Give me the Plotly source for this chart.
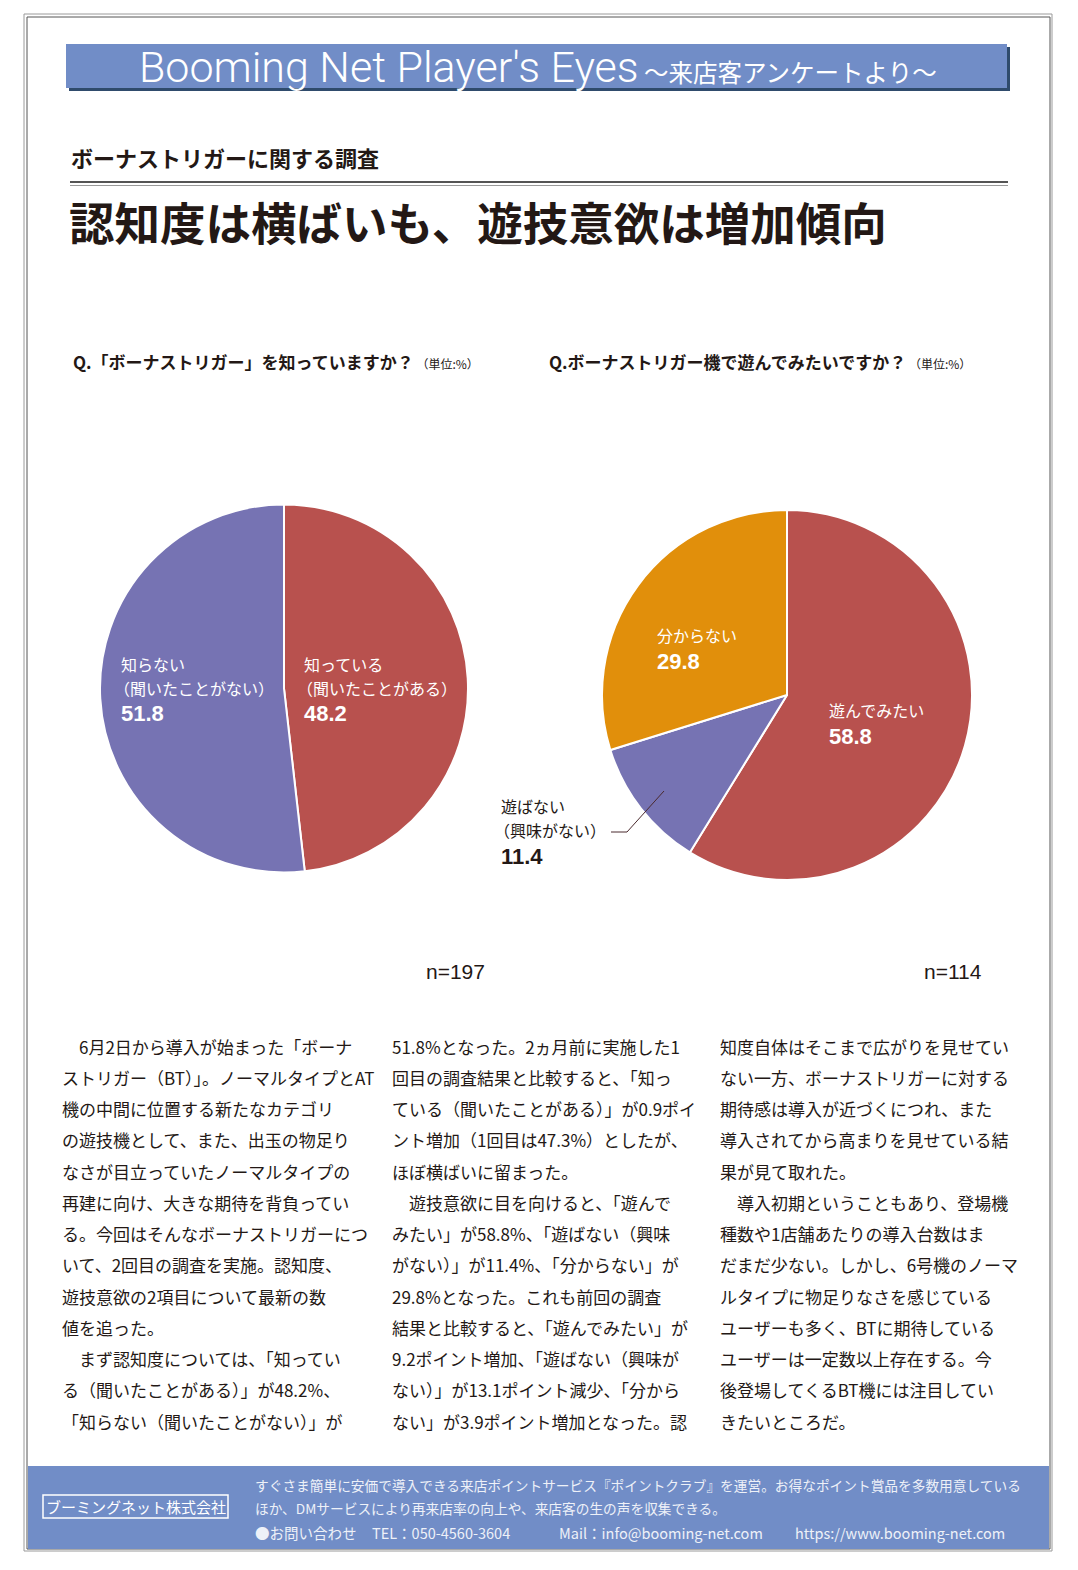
import plotly.graph_objects as go

W, H = 1078, 1570
OX, OY = -8, -8   # compensate the page's default body margin

# ---------------- data ----------------
q1_labels = ["知っている", "知らない"]
q1_sub = ["（聞いたことがある）", "（聞いたことがない）"]
q1_values = [48.2, 51.8]
q1_n = 197

q2_labels = ["遊んでみたい", "遊ばない", "分からない"]
q2_sub = ["", "（興味がない）", ""]
q2_values = [58.8, 11.4, 29.8]
q2_n = 114

RED, PURPLE, ORANGE = "#b8514e", "#7673b3", "#e18f0b"
BLUE = "#718dc7"
INK = "#231815"

col1 = [
    "\u30006月2日から導入が始まった「ボーナ",
    "ストリガー（BT）」。ノーマルタイプとAT",
    "機の中間に位置する新たなカテゴリ",
    "の遊技機として、また、出玉の物足り",
    "なさが目立っていたノーマルタイプの",
    "再建に向け、大きな期待を背負ってい",
    "る。今回はそんなボーナストリガーにつ",
    "いて、2回目の調査を実施。認知度、",
    "遊技意欲の2項目について最新の数",
    "値を追った。",
    "\u3000まず認知度については、「知ってい",
    "る（聞いたことがある）」が48.2%、",
    "「知らない（聞いたことがない）」が",
]
col2 = [
    "51.8%となった。2ヵ月前に実施した1",
    "回目の調査結果と比較すると、「知っ",
    "ている（聞いたことがある）」が0.9ポイ",
    "ント増加（1回目は47.3%）としたが、",
    "ほぼ横ばいに留まった。",
    "\u3000遊技意欲に目を向けると、「遊んで",
    "みたい」が58.8%、「遊ばない（興味",
    "がない）」が11.4%、「分からない」が",
    "29.8%となった。これも前回の調査",
    "結果と比較すると、「遊んでみたい」が",
    "9.2ポイント増加、「遊ばない（興味が",
    "ない）」が13.1ポイント減少、「分から",
    "ない」が3.9ポイント増加となった。認",
]
col3 = [
    "知度自体はそこまで広がりを見せてい",
    "ない一方、ボーナストリガーに対する",
    "期待感は導入が近づくにつれ、また",
    "導入されてから高まりを見せている結",
    "果が見て取れた。",
    "\u3000導入初期ということもあり、登場機",
    "種数や1店舗あたりの導入台数はま",
    "だまだ少ない。しかし、6号機のノーマ",
    "ルタイプに物足りなさを感じている",
    "ユーザーも多く、BTに期待している",
    "ユーザーは一定数以上存在する。今",
    "後登場してくるBT機には注目してい",
    "きたいところだ。",
]

footer_lines = [
    "すぐさま簡単に安価で導入できる来店ポイントサービス『ポイントクラブ』を運営。お得なポイント賞品を多数用意している",
    "ほか、DMサービスにより再来店率の向上や、来店客の生の声を収集できる。",
]
contact = ["●お問い合わせ", "TEL：050-4560-3604", "Mail：info@booming-net.com", "https://www.booming-net.com"]

JP = "Noto Sans CJK JP"


def px(x):
    return (x + OX) / W


def py(y):
    return 1 - (y + OY) / H


fig = go.Figure()

# ---------------- pies ----------------
fig.add_trace(go.Pie(
    labels=q1_labels, values=q1_values, sort=False, direction="clockwise", rotation=0,
    marker=dict(colors=[RED, PURPLE], line=dict(color="white", width=2)),
    textinfo="none", hoverinfo="label+value", showlegend=False,
    domain=dict(x=[px(100), px(468)], y=[py(873), py(504)]),
))
fig.add_trace(go.Pie(
    labels=q2_labels, values=q2_values, sort=False, direction="clockwise", rotation=0,
    marker=dict(colors=[RED, PURPLE, ORANGE], line=dict(color="white", width=2)),
    textinfo="none", hoverinfo="label+value", showlegend=False,
    domain=dict(x=[px(602), px(972)], y=[py(880), py(510)]),
))

shapes = []
ann = []


def text(x, y, s, size, color=INK, bold=False, family=JP, anchor="left", weight=None):
    f = dict(family=family, size=size, color=color)
    if weight is not None:
        f["weight"] = weight
    elif bold:
        f["weight"] = "bold"
    ann.append(dict(x=px(x), y=py(y), xref="paper", yref="paper", text=s,
                    showarrow=False, xanchor=anchor, yanchor="middle", font=f))


def rect(x0, y0, x1, y1, fill=None, line=None, lw=1):
    d = dict(type="rect", xref="paper", yref="paper", x0=px(x0), x1=px(x1), y0=py(y1), y1=py(y0),
             line=dict(width=lw if line else 0, color=line or "rgba(0,0,0,0)"))
    if fill:
        d["fillcolor"] = fill
    shapes.append(d)


def line(x0, y0, x1, y1, color, w=1):
    shapes.append(dict(type="line", xref="paper", yref="paper", x0=px(x0), x1=px(x1),
                       y0=py(y0), y1=py(y1), line=dict(color=color, width=w)))


# page frame
rect(24, 14, 1052, 1551, line="#9a9a9a", lw=1)
rect(27, 17, 1050, 1549, line="#555555", lw=1)

# header banner
rect(69, 47, 1010, 91, fill="#2f4b6c")
rect(66, 44, 1007, 88, fill=BLUE)
ann.append(dict(x=px(538), y=py(67), xref="paper", yref="paper", showarrow=False,
                xanchor="center", yanchor="middle",
                text="<span style='font-family:Roboto;font-size:43px;font-weight:300'>Booming Net Player's Eyes</span>"
                     "<span style='font-size:24.5px'> ～来店客アンケートより～</span>",
                font=dict(family=JP, size=24.5, color="white")))

# subtitle & title
text(69, 157, "ボーナストリガーに関する調査", 22, bold=True)
line(70, 182, 1008, 182, "#555555", 2)
line(70, 185.5, 1008, 185.5, "#9a9a9a", 1)
text(67, 221, "認知度は横ばいも、遊技意欲は増加傾向", 45.5, bold=True)

# questions
text(71, 361, "Q.「ボーナストリガー」を知っていますか？<span style='font-size:12px;font-weight:normal'> （単位:%）</span>", 17, bold=True)
text(547, 361, "Q.ボーナストリガー機で遊んでみたいですか？<span style='font-size:12px;font-weight:normal'> （単位:%）</span>", 17, bold=True)

# pie 1 labels
NUMF = "Liberation Sans"
text(302, 664, q1_labels[0], 16, color="white")
text(295, 688, q1_sub[0], 16, color="white")
text(302, 713, f"{q1_values[0]:.1f}", 22, color="white", bold=True, family=NUMF)
text(119, 664, q1_labels[1], 16, color="white")
text(112, 688, q1_sub[1], 16, color="white")
text(119, 713, f"{q1_values[1]:.1f}", 22, color="white", bold=True, family=NUMF)

# pie 2 labels
text(827, 710, q2_labels[0], 16, color="white")
text(827, 736, f"{q2_values[0]:.1f}", 22, color="white", bold=True, family=NUMF)
text(655, 635, q2_labels[2], 16, color="white")
text(655, 661, f"{q2_values[2]:.1f}", 22, color="white", bold=True, family=NUMF)
text(499, 806, q2_labels[1], 16)
text(492, 830, q2_sub[1], 16)
text(499, 856, f"{q2_values[1]:.1f}", 22, bold=True, family=NUMF)
shapes.append(dict(type="path", xref="paper", yref="paper",
                   path=f"M {px(611)} {py(832)} L {px(627)} {py(832)} L {px(664)} {py(791)}",
                   line=dict(color="#4a2a2e", width=1)))

# n labels
text(424, 971, f"n={q1_n}", 21, family="Liberation Sans")
text(922, 971, f"n={q2_n}", 21, family="Liberation Sans")

# body text
for cx, col in [(60, col1), (390, col2), (718, col3)]:
    for i, s in enumerate(col):
        text(cx, 1046 + i * 31.25, s, 17)

# footer
rect(28, 1466, 1049, 1549, fill=BLUE)
rect(43, 1495, 228, 1518, line="white", lw=1.5)
text(135.5, 1506, "ブーミングネット株式会社", 15, color="white", anchor="center")
FC = "#eef1f8"
text(253, 1485, footer_lines[0], 13.7, color=FC)
text(253, 1508, footer_lines[1], 13.7, color=FC)
for x, s in zip([253, 370, 557, 793], contact):
    text(x, 1532, s, 14.5, color=FC)

fig.update_layout(
    width=W, height=H, margin=dict(l=0, r=0, t=0, b=0),
    paper_bgcolor="white", plot_bgcolor="white",
    shapes=shapes, annotations=ann, showlegend=False,
)

fig.write_html("out.html")
